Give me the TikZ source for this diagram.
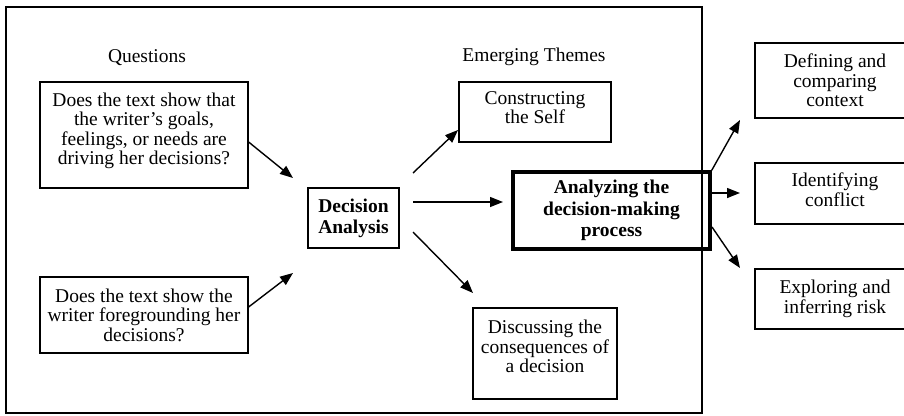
\documentclass[tikz,border=0pt]{standalone}
\usepackage{fontspec}
\setmainfont{Liberation Serif}
\usetikzlibrary{arrows.meta}
\tikzset{
  x=1pt, y=-1pt,
  txtfont/.style={font=\fontsize{19.5}{19.5}\selectfont},
  box/.style={draw, line width=1.2pt, rectangle, inner sep=0pt, align=center, txtfont},
  mainbox/.style={box, line width=3.5pt, font=\fontsize{19.5}{21.5}\selectfont\bfseries},
  heading/.style={inner sep=0pt, txtfont},
  arr/.style={line width=1.4pt, -{Triangle[length=13pt,width=10pt]}},
  frame/.style={line width=1.8pt}
}
\begin{document}
\begin{tikzpicture}
\useasboundingbox (0,0) rectangle (904,415);
\clip (0,0) rectangle (904,415);
\fill[white] (0,0) rectangle (904,415);
% outer frame
\draw[frame] (6,7) rectangle (702,413);
% headings
\node[heading] (hq) at (147,58) {Questions};
\node[heading] (ht) at (534,57) {Emerging Themes};
% question boxes
\node[box, minimum width=208pt, minimum height=106pt] (q1) at (144,135)
  {Does the text show that\\the writer’s goals,\\feelings, or needs are\\driving her decisions?\\[-7pt]\mbox{}};
\node[box, minimum width=208pt, minimum height=76pt] (q2) at (144,315)
  {Does the text show the\\writer foregrounding her\\decisions?};
% decision analysis
\node[box, minimum width=91pt, minimum height=60pt, font=\fontsize{19.5}{21}\selectfont\bfseries] (da) at (353.5,218)
  {Decision\\Analysis};
% themes
\node[box, minimum width=152pt, minimum height=60pt] (cs) at (535,112)
  {Constructing\\the Self\\[-11pt]\mbox{}};
\node[mainbox, minimum width=197pt, minimum height=77pt] (an) at (611.5,210.5)
  {Analyzing the\\decision-making\\process};
\node[box, minimum width=144pt, minimum height=91pt] (dc) at (545,353.5)
  {Discussing the\\consequences of\\a decision\\[-5pt]\mbox{}};
% right boxes
\node[box, minimum width=160pt, minimum height=75pt] (df) at (835,80.5)
  {Defining and\\comparing\\context};
\node[box, minimum width=160pt, minimum height=61pt] (id) at (835,193.5)
  {Identifying\\conflict\\[-12pt]\mbox{}};
\node[box, minimum width=160pt, minimum height=60pt] (ex) at (835,299)
  {Exploring and\\inferring risk};
% free connector ends
\coordinate (e1) at (293,178);
\coordinate (e2) at (293,273);
\coordinate (s3) at (413,173);
\coordinate (e3) at (458,130);
\coordinate (s4) at (413,202);
\coordinate (e4) at (503,202);
\coordinate (s5) at (413,232);
\coordinate (e5) at (473,293);
\coordinate (e6) at (740,120);
\coordinate (s7) at (712,193);
\coordinate (e7) at (740,193);
\coordinate (s8) at (712,227);
\coordinate (e8) at (740,268);
% connectors
\draw[arr] ([yshift=-7pt]q1.east) -- (e1);
\draw[arr] ([yshift=8pt]q2.east) -- (e2);
\draw[arr] (s3) -- (e3);
\draw[arr] (s4) -- (e4);
\draw[arr] (s5) -- (e5);
\draw[arr] (an.north east) -- (e6);
\draw[arr] (s7) -- (e7);
\draw[arr] (s8) -- (e8);
\end{tikzpicture}
\end{document}
